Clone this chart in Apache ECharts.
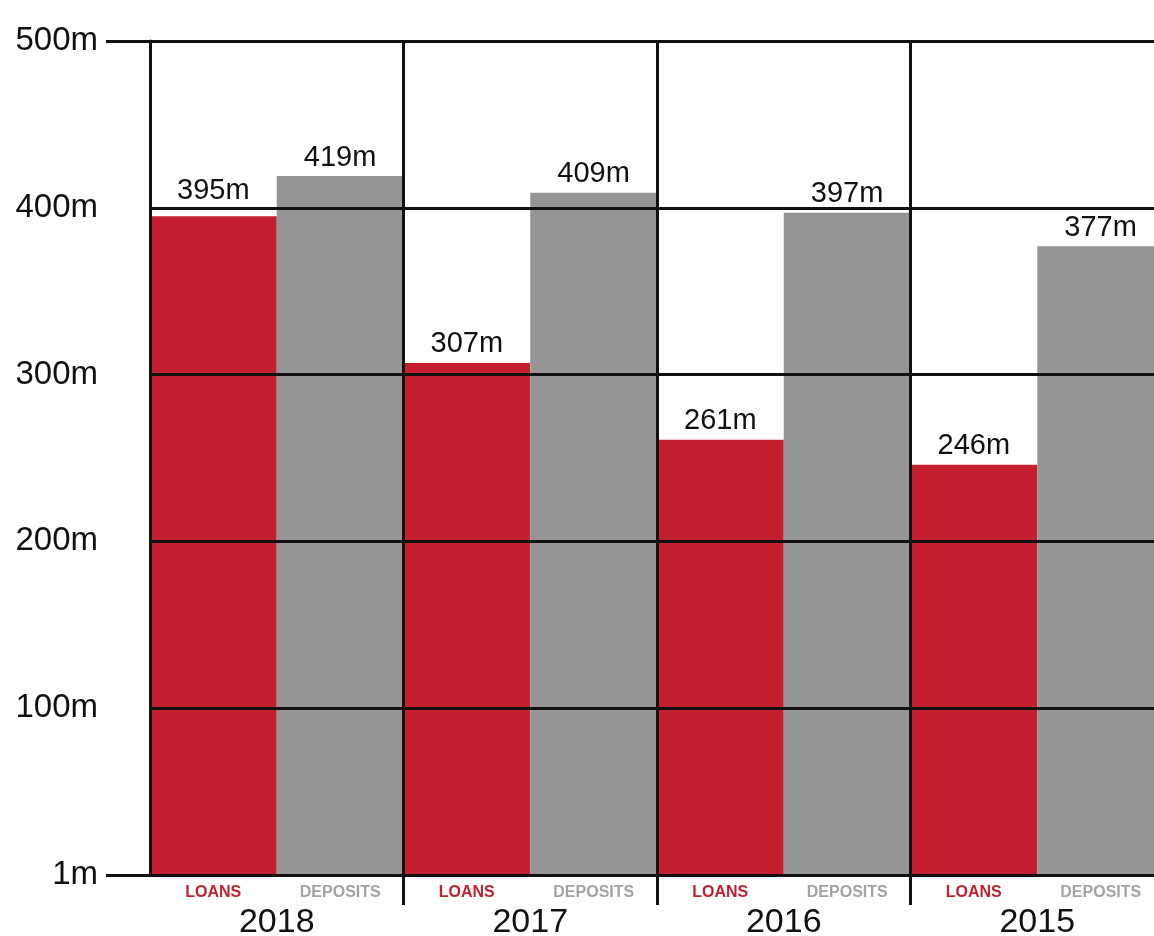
<!DOCTYPE html>
<html>
<head>
<meta charset="utf-8">
<script src="https://cdn.jsdelivr.net/npm/echarts@6/dist/echarts.min.js"></script>
<style>
  html, body { margin: 0; padding: 0; background: #fff; }
  #chart { width: 1154px; height: 936px; }
</style>
</head>
<body>
<div id="chart"></div>
<script>
const years = ['2018', '2017', '2016', '2015'];
const seriesNames = ['LOANS', 'DEPOSITS'];
const loans = [395, 307, 261, 246];
const deposits = [419, 409, 397, 377];
const yTicks = [0, 100, 200, 300, 400, 500];
const yTickLabels = ['1m', '100m', '200m', '300m', '400m', '500m'];

const RED = '#c41f2e';
const GREY = '#959595';
const INK = '#111';
const FONT = '"Liberation Sans", Arial, Helvetica, sans-serif';

const chart = echarts.init(document.getElementById('chart'));

const valueLabel = {
    show: true,
    position: 'top',
    distance: 4,
    formatter: p => p.value + 'm',
    color: INK,
    fontSize: 29,
    fontFamily: FONT,
};

const blackLine = { color: INK, width: 3 };

chart.setOption({
    backgroundColor: '#fff',
    animation: false,
    // the last column runs off the right edge of the picture
    grid: { left: 150, width: 1014, top: 41, bottom: 61, outerBoundsMode: 'none' },
    xAxis: {
        type: 'category',
        data: years,
        z: 5,
        axisLine: { lineStyle: blackLine },
        axisTick: {
            show: true,
            length: 30,
            interval: idx => idx > 0, // no tick under the left border
            lineStyle: blackLine,
        },
        splitLine: { show: true, interval: 0, lineStyle: blackLine },
        axisLabel: {
            interval: 0,
            margin: 8,
            fontFamily: FONT,
            formatter: year => `{l|${seriesNames[0]}}{d|${seriesNames[1]}}\n{y|${year}}`,
            rich: {
                l: { width: 127, align: 'center', color: RED, fontSize: 16, fontWeight: 'bold', fontFamily: FONT, height: 20 },
                d: { width: 127, align: 'center', color: '#a3a3a3', fontSize: 16, fontWeight: 'bold', fontFamily: FONT, height: 20 },
                y: { align: 'center', color: INK, fontSize: 34, fontFamily: FONT, lineHeight: 40 },
            },
        },
    },
    yAxis: [
        {
            type: 'value',
            min: 0,
            max: 500,
            interval: 100,
            z: 5,
            axisLine: { show: true, lineStyle: blackLine },
            axisTick: { show: false },
            splitLine: { show: true, lineStyle: blackLine },
            axisLabel: {
                margin: 52,
                color: INK,
                fontSize: 33,
                fontFamily: FONT,
                formatter: v => yTickLabels[yTicks.indexOf(v)],
            },
        },
        {
            // only the top and bottom lines reach out towards the labels
            type: 'value',
            position: 'left',
            min: 0,
            max: 500,
            interval: 500,
            z: 5,
            axisLine: { show: false },
            axisTick: { show: true, length: 44, lineStyle: blackLine },
            splitLine: { show: false },
            axisLabel: { show: false },
        },
    ],
    series: [
        {
            name: seriesNames[0],
            type: 'bar',
            barGap: 0,
            barCategoryGap: 0,
            itemStyle: { color: RED },
            label: valueLabel,
            // the 2018 loans label sits clear of the 400m line
            data: loans.map((v, i) => (i === 0 ? { value: v, label: { distance: 11 } } : v)),
        },
        {
            name: seriesNames[1],
            type: 'bar',
            barGap: 0,
            barCategoryGap: 0,
            itemStyle: { color: GREY },
            label: valueLabel,
            data: deposits,
        },
    ],
});
</script>
</body>
</html>
